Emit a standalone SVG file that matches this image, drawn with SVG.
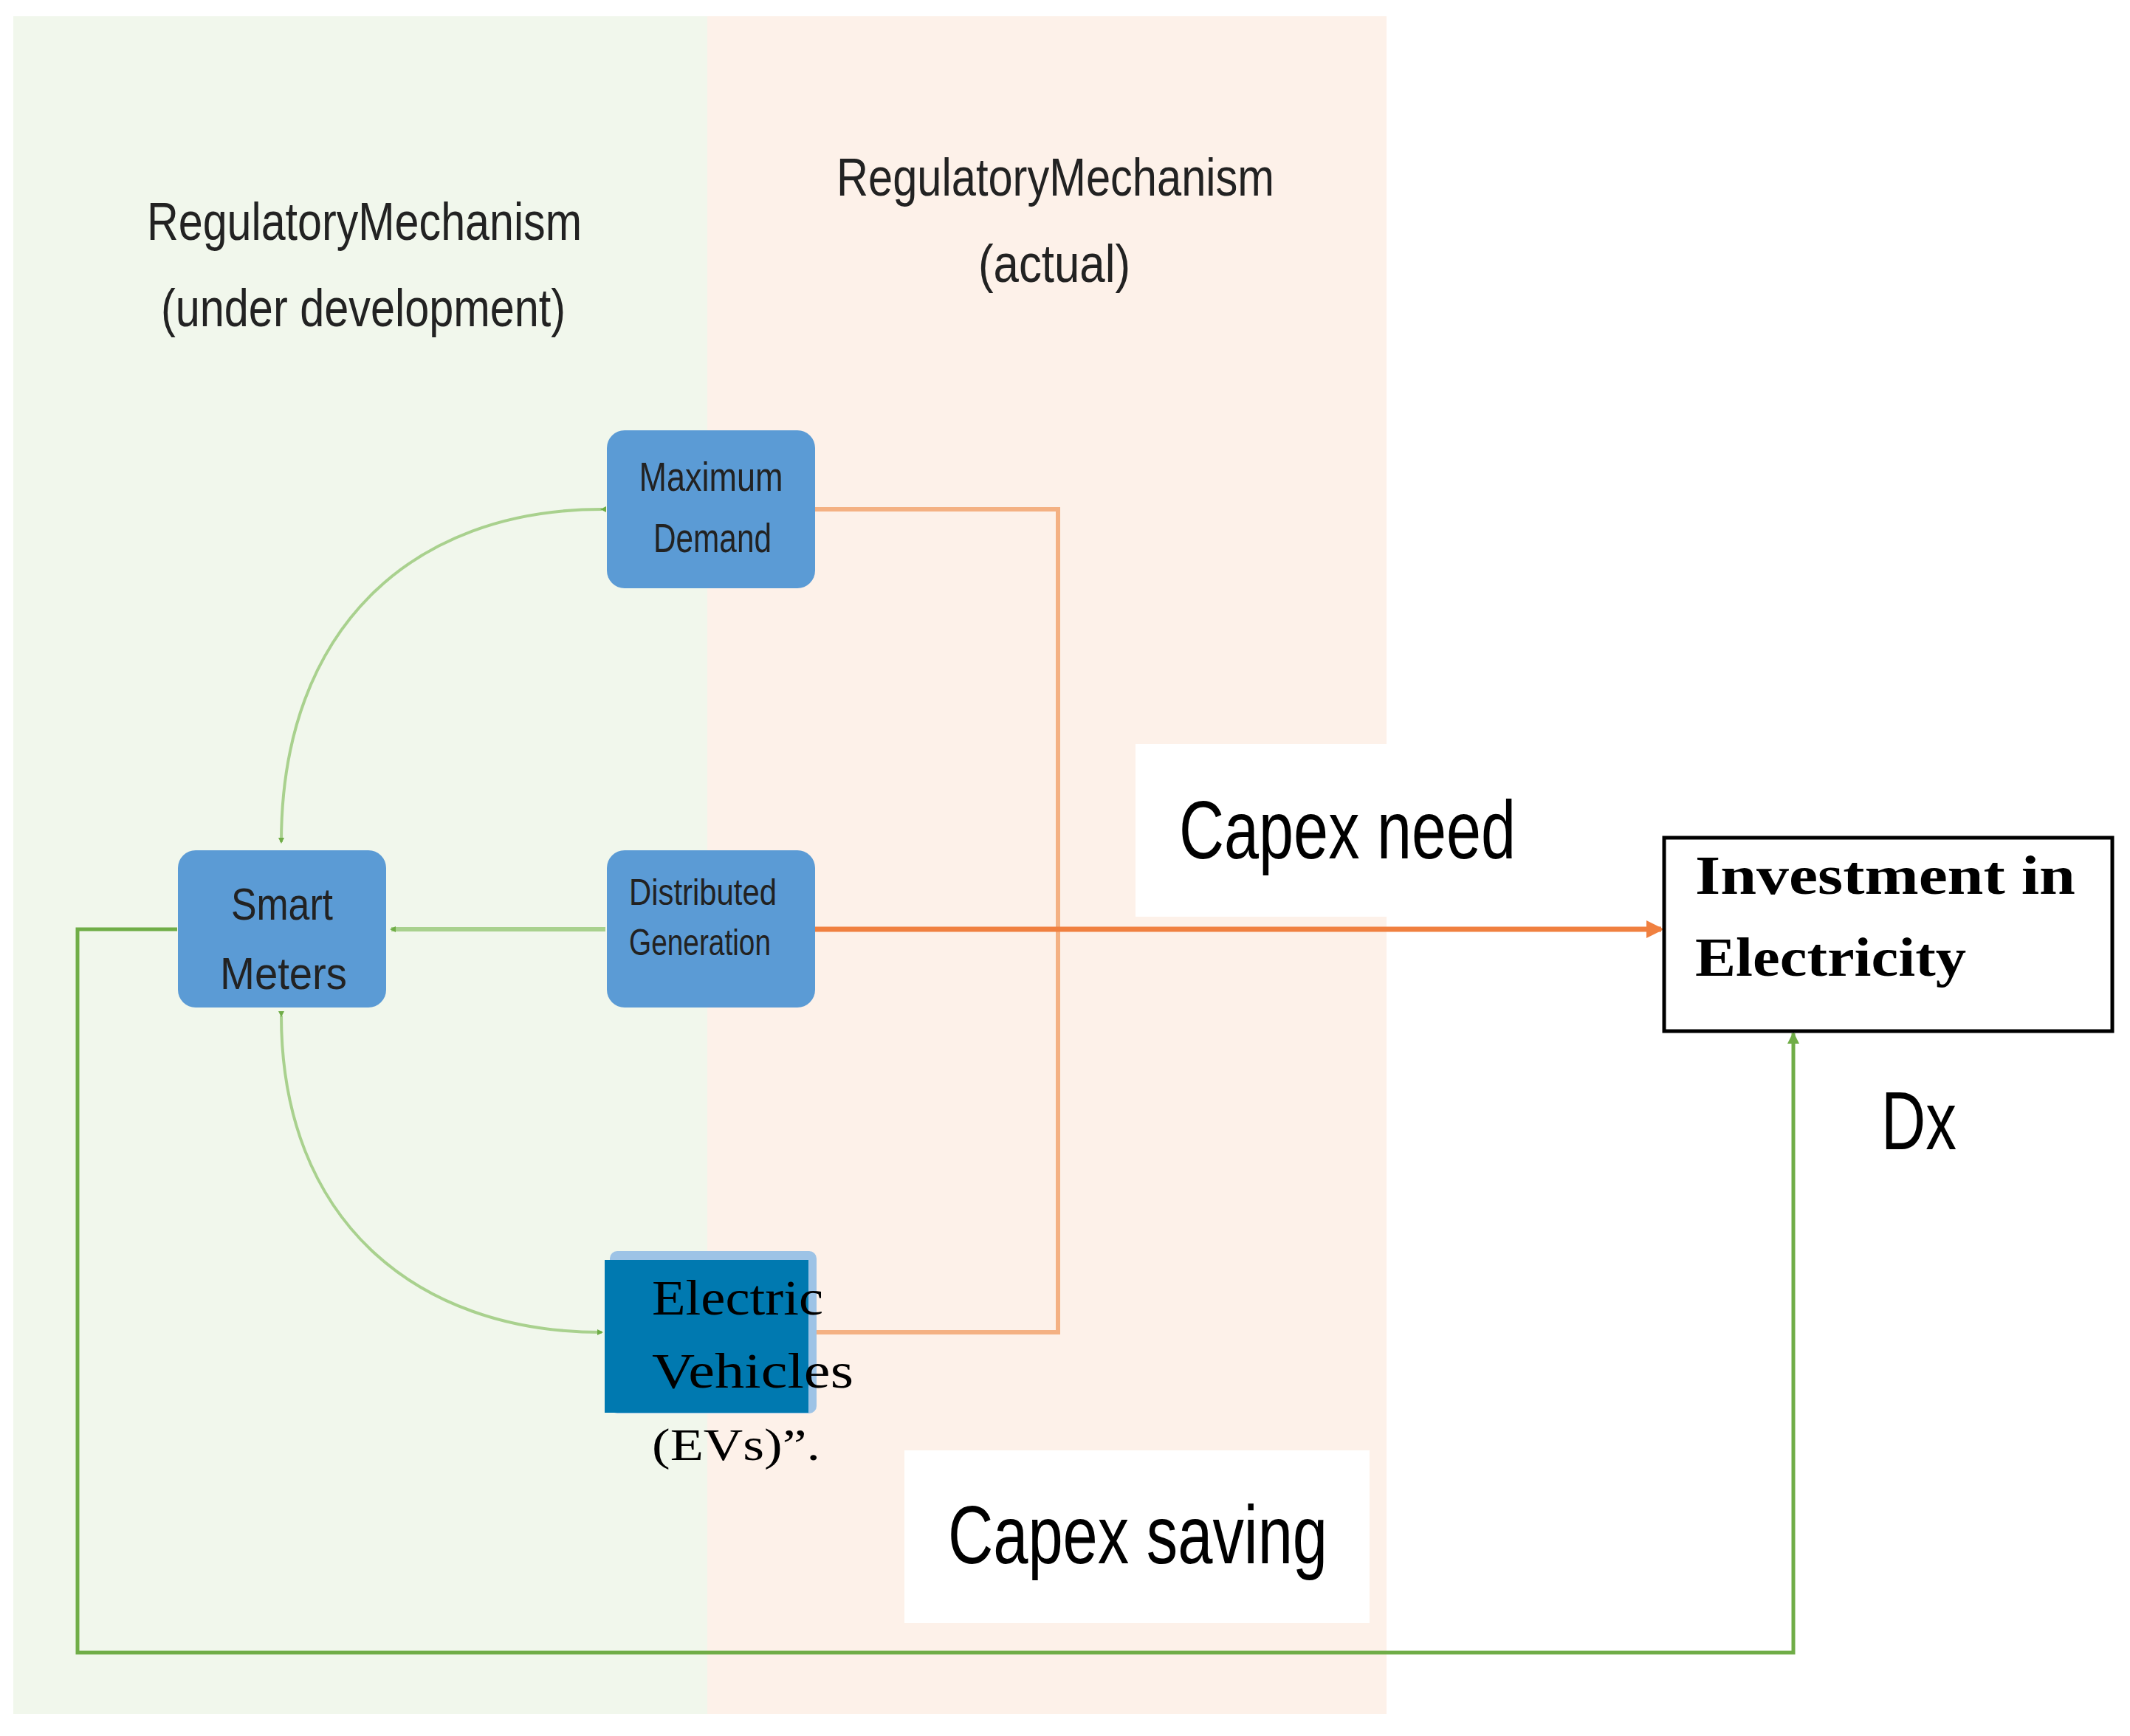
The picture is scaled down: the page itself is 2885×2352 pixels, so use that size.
<svg xmlns="http://www.w3.org/2000/svg" width="2885" height="2352" viewBox="0 0 2885 2352">
<style>
.cond{font-family:"Liberation Sans",Arial,sans-serif;fill:#222}
.box{fill:#5B9BD5}
.big{font-family:"Liberation Sans",Arial,sans-serif;fill:#000}
.serif{font-family:"Liberation Serif","Times New Roman",serif;fill:#000}
</style>
<defs>
<marker id="ag" markerWidth="8" markerHeight="8" refX="6" refY="4" orient="auto" markerUnits="userSpaceOnUse" viewBox="0 0 8 8"><path d="M0,0 L8,4 L0,8 Z" fill="#70AD47"/></marker>
<marker id="agb" markerWidth="16" markerHeight="16" refX="14" refY="8" orient="auto" markerUnits="userSpaceOnUse"><path d="M0,0 L16,8 L0,16 Z" fill="#70AD47"/></marker>
<marker id="ao" markerWidth="24" markerHeight="24" refX="20" refY="12" orient="auto" markerUnits="userSpaceOnUse"><path d="M0,0 L24,12 L0,24 Z" fill="#F08040"/></marker>
</defs>
<rect width="2885" height="2352" fill="#fff"/>
<rect x="18" y="22" width="940" height="2300" fill="#F1F7EC"/>
<rect x="958" y="22" width="920" height="2300" fill="#FDF1E9"/>
<rect x="1538" y="1008" width="340" height="234" fill="#fff"/>
<rect x="1225" y="1965" width="630" height="234" fill="#fff"/>
<g id="headers">
<text class="cond" x="199" y="325" font-size="72" textLength="589" lengthAdjust="spacingAndGlyphs">RegulatoryMechanism</text>
<text class="cond" x="218" y="442" font-size="72" textLength="548" lengthAdjust="spacingAndGlyphs">(under development)</text>
<text class="cond" x="1133" y="265" font-size="72" textLength="593" lengthAdjust="spacingAndGlyphs">RegulatoryMechanism</text>
<text class="cond" x="1325" y="382" font-size="72" textLength="206" lengthAdjust="spacingAndGlyphs">(actual)</text>
</g>
<g id="connectors" fill="none">
<polyline points="1104,690 1433,690 1433,1805 1104,1805" stroke="#F4B183" stroke-width="6"/>
<line x1="1104" y1="1259" x2="2250" y2="1259" stroke="#F08040" stroke-width="7" marker-end="url(#ao)"/>
<polyline points="240,1259 105,1259 105,2239 2429,2239 2429,1400" stroke="#70AD47" stroke-width="5" marker-end="url(#agb)"/>
<line x1="820" y1="1259" x2="530" y2="1259" stroke="#A9D18E" stroke-width="6" marker-end="url(#ag)"/>
<path d="M815,690 C560,690 381,850 381,1141" stroke="#A9D18E" stroke-width="4" marker-start="url(#ag)" marker-end="url(#ag)"/>
<path d="M381,1376 C381,1650 560,1805 815,1805" stroke="#A9D18E" stroke-width="4" marker-start="url(#ag)" marker-end="url(#ag)"/>
</g>
<g id="maxdemand">
<rect class="box" x="822" y="583" width="282" height="214" rx="24"/>
<text class="cond" x="963" y="665" font-size="56" text-anchor="middle" textLength="195" lengthAdjust="spacingAndGlyphs">Maximum</text>
<text class="cond" x="965" y="748" font-size="56" text-anchor="middle" textLength="160" lengthAdjust="spacingAndGlyphs">Demand</text>
</g>
<g id="smartmeters">
<rect class="box" x="241" y="1152" width="282" height="213" rx="24"/>
<text class="cond" x="382" y="1246" font-size="62" text-anchor="middle" textLength="138" lengthAdjust="spacingAndGlyphs">Smart</text>
<text class="cond" x="384" y="1340" font-size="62" text-anchor="middle" textLength="172" lengthAdjust="spacingAndGlyphs">Meters</text>
</g>
<g id="distgen">
<rect class="box" x="822" y="1152" width="282" height="213" rx="24"/>
<text class="cond" x="852" y="1226" font-size="50" textLength="200" lengthAdjust="spacingAndGlyphs">Distributed</text>
<text class="cond" x="852" y="1294" font-size="50" textLength="192" lengthAdjust="spacingAndGlyphs">Generation</text>
</g>
<g id="ev">
<rect x="826" y="1695" width="280" height="220" fill="#9DC3E6" rx="10"/>
<rect x="819" y="1707" width="276" height="207" fill="#0079B0"/>
<text class="serif" x="883" y="1781" font-size="68" textLength="232" lengthAdjust="spacingAndGlyphs">Electric</text>
<text class="serif" x="883" y="1880" font-size="68" textLength="273" lengthAdjust="spacingAndGlyphs">Vehicles</text>
<text class="serif" x="883" y="1978" font-size="62" textLength="228" lengthAdjust="spacingAndGlyphs">(EVs)”.</text>
</g>
<g id="investment">
<rect x="2254" y="1135" width="607" height="262" fill="#fff" stroke="#000" stroke-width="5"/>
<text class="serif" x="2296" y="1211" font-size="74" font-weight="bold" textLength="515" lengthAdjust="spacingAndGlyphs">Investment in</text>
<text class="serif" x="2296" y="1322" font-size="74" font-weight="bold" textLength="367" lengthAdjust="spacingAndGlyphs">Electricity</text>
</g>
<g id="labels">
<text class="big" x="1597" y="1163" font-size="112" textLength="456" lengthAdjust="spacingAndGlyphs">Capex need</text>
<text class="big" x="1284" y="2118" font-size="112" textLength="514" lengthAdjust="spacingAndGlyphs">Capex saving</text>
<text class="big" x="2548" y="1557" font-size="112" textLength="102" lengthAdjust="spacingAndGlyphs">Dx</text>
</g>
</svg>
